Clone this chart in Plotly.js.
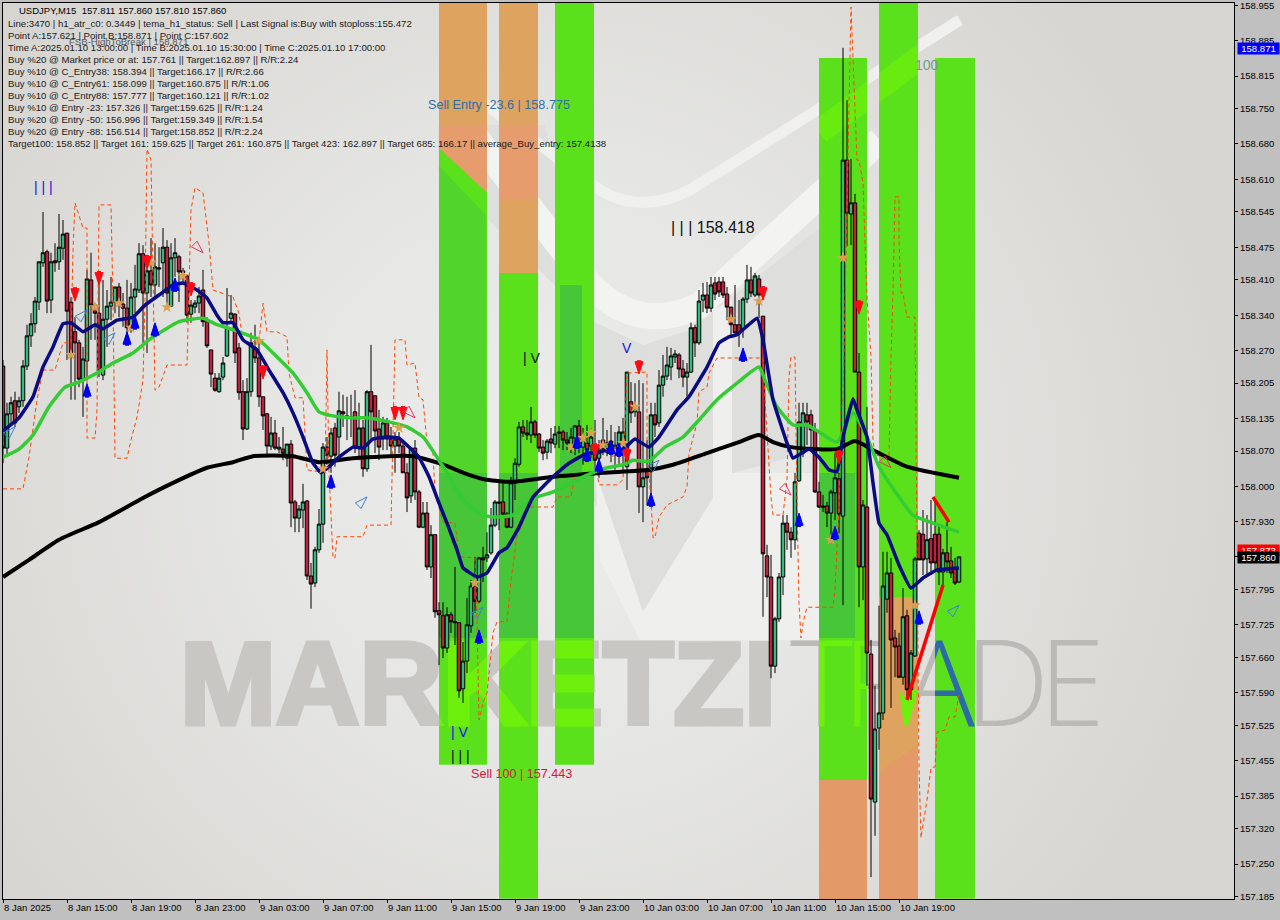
<!DOCTYPE html>
<html><head><meta charset="utf-8">
<script src="https://cdn.plot.ly/plotly-3.0.1.min.js"></script>
<style>html,body{margin:0;padding:0;background:#c0c0c0}#chart{width:1280px;height:920px}</style>
</head><body><div id="chart"></div>
<script>
const FONT = 'Liberation Sans';
const candleDirs = 'RGGRGGGGGG'+'GRGRGGRRRR'+'GGRRRGGGGR'+'RRGGGRGRGR'+'GRGGRGRGGG'+'RRRRGGGGRR'+'RGGRRRRGRG'+'RGRRGGRRGG'+
 'GRGRGRRGRG'+'RGRRRGRRGR'+'RRGRRGRGRR'+'RGRGRGGGRG'+'RGGGRRRGGG'+'RRGRRRGRGR'+'RRGGRGRGRG'+'RGRGGGGRGR'+
 'GRGRGGGGGR'+'RGGRGGRGRR'+'RRRRRGGRGR'+'RRRGGGRRGG'+'GRRRRRRGGR'+'GRGRRGRRGG'+'GGRRRGRGGR'+'RGRRRGRRRG';
const bodyTop = [
158.239,158.144,158.166,158.170,158.170,158.239,158.299,158.323,158.368,158.446,
158.464,158.466,158.446,158.448,158.475,158.501,158.503,158.366,158.307,158.285,
158.253,158.412,158.410,158.360,158.344,158.332,158.358,158.366,158.396,158.396,
158.362,158.354,158.376,158.392,158.462,158.462,158.428,158.428,158.436,158.434,
158.475,158.475,158.454,158.464,158.456,158.428,158.418,158.360,158.364,158.378,
158.390,158.327,158.271,158.215,158.215,158.245,158.315,158.344,158.342,158.275,
158.188,158.188,158.285,158.275,158.255,158.178,158.144,158.106,158.106,158.078,
158.074,158.084,158.084,157.969,157.955,157.969,157.971,157.822,157.874,157.925,
158.078,158.078,158.106,158.116,158.150,158.148,158.140,158.138,158.148,158.116,
158.116,158.188,158.188,158.180,158.114,158.126,158.126,158.094,158.094,158.094,
158.080,158.027,158.076,158.076,157.989,157.947,157.947,157.904,157.904,157.753,
157.743,157.745,157.745,157.731,157.729,157.653,157.725,157.802,157.802,157.858,
157.858,157.864,157.923,157.969,157.969,157.969,157.945,158.007,158.046,158.118,
158.118,158.106,158.128,158.128,158.104,158.078,158.090,158.094,158.104,158.108,
158.108,158.092,158.098,158.120,158.120,158.096,158.086,158.098,158.082,158.074,
158.092,158.086,158.090,158.082,158.108,158.108,158.227,158.168,158.156,158.148,
158.017,158.029,158.142,158.142,158.201,158.219,158.241,158.259,158.263,158.261,
158.233,158.227,158.315,158.315,158.368,158.380,158.380,158.400,158.404,158.406,
158.406,158.382,158.356,158.321,158.321,158.372,158.410,158.410,158.418,158.412,
158.338,157.862,157.820,157.737,157.820,157.927,157.927,157.909,158.009,158.128,
158.146,158.142,158.142,158.112,157.989,157.961,157.961,157.989,158.017,158.015,
158.648,158.648,158.563,158.563,158.227,157.963,157.959,157.667,157.518,157.550,
157.802,157.828,157.828,157.699,157.683,157.741,157.743,157.669,157.856,157.907,
157.905,157.894,157.896,157.905,157.905,157.868,157.868,157.852,157.838,157.860];
const bodyBottom = [
158.076,158.076,158.144,158.126,158.158,158.170,158.239,158.299,158.323,158.366,
158.444,158.368,158.370,158.444,158.446,158.473,158.348,158.265,158.285,158.213,
158.213,158.249,158.360,158.344,158.229,158.221,158.332,158.358,158.366,158.364,
158.354,158.315,158.321,158.376,158.390,158.384,158.384,158.400,158.400,158.432,
158.444,158.384,158.358,158.454,158.426,158.424,158.340,158.342,158.356,158.364,
158.327,158.279,158.223,158.191,158.188,158.217,158.259,158.334,158.265,158.186,
158.114,158.114,158.188,158.255,158.178,158.140,158.080,158.080,158.076,158.074,
158.066,158.056,157.967,157.937,157.937,157.953,157.822,157.806,157.808,157.874,
157.925,158.062,158.060,158.062,158.098,158.144,158.136,158.136,158.078,158.076,
158.035,158.035,158.148,158.110,158.078,158.094,158.094,158.080,158.080,158.080,
158.027,157.977,157.981,157.989,157.919,157.919,157.840,157.840,157.751,157.745,
157.679,157.679,157.731,157.729,157.594,157.598,157.653,157.723,157.772,157.772,
157.854,157.858,157.868,157.923,157.967,157.945,157.919,157.919,158.007,158.044,
158.106,158.102,158.102,158.102,158.076,158.066,158.068,158.086,158.084,158.106,
158.092,158.086,158.086,158.096,158.086,158.078,158.072,158.080,158.052,158.056,
158.074,158.068,158.072,158.068,158.082,158.088,158.039,158.146,158.148,157.999,
157.999,158.017,158.029,158.122,158.126,158.201,158.219,158.237,158.257,158.233,
158.217,158.217,158.227,158.285,158.285,158.370,158.354,158.354,158.382,158.386,
158.380,158.356,158.321,158.305,158.303,158.313,158.372,158.384,158.380,158.380,
157.866,157.820,157.643,157.643,157.737,157.820,157.909,157.894,157.894,158.011,
158.066,158.128,158.112,157.989,157.959,157.959,157.947,157.947,157.987,157.945,
157.941,158.543,158.541,158.227,157.840,157.840,157.669,157.379,157.373,157.520,
157.550,157.776,157.695,157.681,157.621,157.621,157.596,157.596,157.663,157.854,
157.854,157.856,157.848,157.848,157.830,157.830,157.850,157.828,157.808,157.810];
const highs = [
158.251,158.166,158.178,158.188,158.178,158.251,158.321,158.344,158.376,158.446,
158.545,158.470,158.464,158.483,158.541,158.529,158.503,158.376,158.336,158.291,
158.277,158.430,158.464,158.364,158.404,158.410,158.390,158.416,158.396,158.404,
158.384,158.410,158.404,158.440,158.483,158.479,158.444,158.493,158.483,158.475,
158.513,158.489,158.483,158.493,158.460,158.434,158.420,158.370,158.370,158.396,
158.430,158.336,158.271,158.225,158.225,158.257,158.394,158.380,158.344,158.285,
158.211,158.215,158.305,158.321,158.291,158.178,158.146,158.138,158.132,158.098,
158.118,158.084,158.092,157.973,157.963,158.005,157.973,157.848,157.880,157.955,
158.086,158.098,158.116,158.126,158.188,158.182,158.178,158.182,158.191,158.166,
158.132,158.191,158.281,158.180,158.152,158.138,158.136,158.118,158.108,158.108,
158.086,158.046,158.076,158.092,157.993,157.969,157.969,157.923,157.904,157.770,
157.770,157.760,157.751,157.840,157.729,157.691,157.778,157.814,157.860,157.860,
157.880,157.909,157.957,157.973,158.013,158.009,157.949,158.019,158.056,158.128,
158.132,158.132,158.158,158.132,158.106,158.092,158.094,158.116,158.120,158.120,
158.112,158.108,158.116,158.122,158.132,158.116,158.122,158.116,158.132,158.092,
158.136,158.112,158.122,158.108,158.120,158.136,158.227,158.207,158.205,158.211,
158.205,158.092,158.166,158.166,158.231,158.261,158.277,158.275,158.271,158.265,
158.251,158.245,158.325,158.321,158.390,158.404,158.406,158.416,158.416,158.416,
158.416,158.396,158.356,158.400,158.370,158.376,158.440,158.436,158.424,158.420,
158.338,157.884,157.864,157.741,157.828,157.943,157.943,157.919,158.027,158.166,
158.166,158.166,158.152,158.126,158.009,157.983,157.969,157.993,158.066,158.027,
158.871,158.767,158.650,158.581,158.265,157.973,158.158,157.695,157.604,157.763,
157.870,157.870,157.858,157.715,157.709,157.798,157.755,157.675,157.860,157.913,
157.953,157.943,157.973,157.973,157.921,157.876,157.929,157.880,157.858,157.860];
const lows = [
158.046,158.058,158.126,158.118,158.146,158.158,158.231,158.277,158.305,158.350,
158.436,158.344,158.344,158.426,158.430,158.450,158.251,158.172,158.172,158.197,
158.138,158.217,158.291,158.291,158.217,158.211,158.277,158.330,158.344,158.336,
158.317,158.297,158.305,158.344,158.384,158.285,158.265,158.376,158.376,158.396,
158.376,158.356,158.356,158.416,158.366,158.400,158.325,158.325,158.344,158.344,
158.317,158.275,158.197,158.188,158.186,158.211,158.257,158.325,158.245,158.172,
158.092,158.112,158.178,158.245,158.158,158.112,158.058,158.072,158.072,158.066,
158.052,158.039,157.919,157.909,157.909,157.917,157.814,157.757,157.800,157.868,
157.888,158.043,158.027,158.039,158.058,158.118,158.092,158.098,158.066,158.052,
158.019,158.029,158.092,158.066,158.052,158.072,158.072,158.058,158.027,158.066,
158.027,157.949,157.967,157.973,157.917,157.917,157.834,157.818,157.739,157.645,
157.659,157.669,157.709,157.685,157.580,157.570,157.629,157.709,157.749,157.768,
157.810,157.850,157.864,157.919,157.913,157.939,157.917,157.917,157.973,158.039,
158.098,158.092,158.086,158.096,158.068,158.052,158.054,158.066,158.076,158.076,
158.072,158.072,158.066,158.062,158.066,158.043,158.052,158.056,158.033,158.017,
158.062,158.060,158.048,158.033,158.043,158.033,157.993,158.126,158.138,157.947,
157.929,157.963,157.959,158.098,158.118,158.178,158.211,158.211,158.245,158.215,
158.197,158.178,158.225,158.257,158.281,158.346,158.344,158.346,158.370,158.376,
158.374,158.330,158.297,158.297,158.277,158.295,158.364,158.376,158.376,158.334,
157.741,157.780,157.619,157.629,157.731,157.784,157.874,157.858,157.874,158.009,
158.058,158.082,158.078,157.987,157.957,157.949,157.919,157.894,157.933,157.907,
157.764,158.477,158.479,158.227,157.760,157.774,157.604,157.224,157.306,157.477,
157.536,157.749,157.560,157.621,157.619,157.606,157.576,157.576,157.661,157.854,
157.824,157.824,157.824,157.834,157.804,157.804,157.828,157.818,157.804,157.808];

const blueX = [0,4,7.5,10,12.5,15,17,20,23,25,28.5,32.5,35.5,39,42.5,45,48.5,51,53.5,55,57.5,60,63.5,66.5,70,72.5,75,77.5,79.5,81.5,84,87.5,90,92.5,96,99,101.5,104,106.5,109,111,113.5,115,118.5,121,124,126,129,132.5,137.5,141.5,146,148.5,151.5,155,158,161.5,164,168.5,171.5,176,179,181.5,183.5,188.5,190,192.5,196,197.5,201.5,204,206.5,208.5,210,212.5,213.5,216,217.5,219,221,224,227,230,233.5,239];
const blueY = [158.110,158.136,158.178,158.237,158.277,158.323,158.325,158.307,158.321,158.313,158.330,158.336,158.360,158.380,158.400,158.404,158.390,158.374,158.340,158.325,158.325,158.291,158.271,158.231,158.186,158.146,158.098,158.046,158.027,158.039,158.058,158.078,158.076,158.094,158.098,158.096,158.078,158.058,158.019,157.967,157.927,157.874,157.838,157.820,157.828,157.868,157.878,157.919,157.979,158.019,158.046,158.066,158.066,158.074,158.074,158.094,158.078,158.098,158.152,158.178,158.237,158.285,158.297,158.301,158.334,158.291,158.172,158.086,158.056,158.074,158.058,158.033,158.029,158.098,158.174,158.152,158.098,158.007,157.927,157.904,157.844,157.798,157.818,157.834,157.838];
const greenX = [0,4,7.5,11.5,15.5,19,23.5,27.5,32.5,36.5,40,44,50,53.5,56,59,64,68.5,72.5,76,79,84,87.5,91.5,96.5,101,105,108.5,111,115,120,123.5,127.5,131.5,137.5,145,151,155,157.5,161.5,165.5,170,174,178.5,183.5,189,190.5,193.5,197.5,201,204,208.5,212.5,216,219,224,227.5,232.5,239];
const greenY = [158.058,158.074,158.102,158.158,158.197,158.207,158.225,158.245,158.265,158.291,158.309,158.327,158.334,158.321,158.315,158.307,158.291,158.257,158.225,158.186,158.148,158.138,158.136,158.136,158.128,158.118,158.098,158.058,158.027,157.973,157.943,157.939,157.943,157.973,157.989,158.019,158.037,158.043,158.052,158.050,158.078,158.098,158.132,158.172,158.205,158.237,158.211,158.158,158.122,158.122,158.108,158.088,158.146,158.098,158.039,157.979,157.943,157.927,157.909];
const blackX = [0,6.5,14,24,35,42.5,51,57.5,62.5,72.5,79,87.5,102.5,109,116.5,121,127.5,137.5,150,161.5,167.5,176,184,189,192.5,197,208.5,213,217.5,226,239];
const blackY = [157.820,157.854,157.894,157.929,157.977,158.007,158.037,158.048,158.060,158.060,158.048,158.056,158.060,158.046,158.023,158.013,158.009,158.019,158.027,158.033,158.043,158.066,158.088,158.102,158.088,158.078,158.074,158.090,158.072,158.039,158.017];
const stopX = [0,5,6.5,8.5,10,13,15,17,17.5,18,20,21,21,23,23.5,24,27,27.5,28,31,32,33.5,35,35.5,36,37,38,39,41,46,47,48,50,51,51.5,52.5,57.5,59,60,64,65,66,68.5,71,71.5,73,75,76,80.5,81,81.5,82.5,83,83.5,90,91,97,98,100.5,101,103,104,105,106,107.5,108,110,113,114,118,118.5,119,120,121,122.5,123.5,126,127,128.5,131.5,137.5,138.5,142,143,148.5,149,153.5,155,156,161,161,162,162.5,163,164,166,170,171,171.5,173.5,174,176,176.5,178.5,190,190.5,192,192.5,195,196,196.5,197,198,198.5,199,199.5,200,201,207.5,208,209,209.5,210,212,212.5,213,213.5,214,215,215.5,216,217,217.5,218,221.5,222,222.5,223,224,224,224.5,225,226,228,228.5,229,229.5,231,232,233,233.5,235.5,236.5,238,239];
const stopY = [157.995,157.995,158.058,158.172,158.231,158.231,158.285,158.285,158.470,158.563,158.513,158.513,158.096,158.096,158.152,158.559,158.559,158.370,158.056,158.056,158.092,158.138,158.211,158.370,158.670,158.648,158.191,158.197,158.241,158.241,158.549,158.593,158.583,158.509,158.483,158.390,158.376,158.344,158.287,158.287,158.364,158.307,158.307,158.297,158.225,158.176,158.176,158.033,158.027,158.271,158.027,157.858,157.858,157.900,157.900,157.923,157.923,158.291,158.291,158.241,158.245,158.176,158.172,158.086,158.066,157.987,157.929,157.927,157.860,157.858,157.735,157.536,157.570,157.590,157.709,157.731,157.731,157.814,157.900,157.959,157.959,157.979,157.979,158.023,158.027,158.003,158.003,158.013,158.225,158.227,158.066,157.973,157.898,157.898,157.939,157.963,157.979,157.999,158.066,158.126,158.188,158.197,158.225,158.255,158.255,158.172,157.979,157.943,157.943,158.013,158.217,158.257,158.257,157.973,157.768,157.699,157.729,157.760,157.760,157.794,157.959,158.158,158.166,158.952,158.853,158.767,158.648,158.648,158.603,158.483,158.376,158.257,158.092,158.062,158.058,158.257,158.384,158.575,158.575,158.489,158.384,158.384,158.336,158.336,157.959,157.443,157.302,157.377,157.441,157.443,157.512,157.516,157.542,157.542,157.586];
const legUpX = [226,235], legUpY = [157.576,157.804];
const legDownX = [232.5,236.5], legDownY = [157.979,157.929];

const redDownX = [18,24,36,47,65,98,100,148,156,159,190,214,209];
const redDownY = [158.382,158.414,158.446,158.392,158.227,158.146,158.146,158.072,158.062,158.237,158.384,158.356,158.058];
const blueUpX = [21,31,33,38,43,82,119,146,143.5,149,152,154,162,185,199,208,229];
const blueUpY = [158.190,158.293,158.325,158.311,158.400,158.009,157.701,158.062,158.088,158.041,158.076,158.072,157.973,158.261,157.933,157.907,157.739];
const hollowUpX = [3,21,28,91,120,164,239];
const hollowUpY = [158.118,158.350,158.305,157.979,157.760,158.052,157.764];
const hollowDownX = [50,103,197,222];
const hollowDownY = [158.464,158.136,157.983,158.037];
const starX = [17,23,29,32,37,41,45,64,80,99,118,142,145,147,150,153,155,158,182,189,207,210,228];
const starY = [158.261,158.356,158.364,158.315,158.444,158.356,158.418,158.289,158.035,158.116,157.808,158.078,158.096,158.106,158.082,158.066,158.086,158.158,158.332,158.368,157.894,158.454,157.764];

const bandStart = [109,109,124,124,138,204,204,219,219,233];
const bandEnd   = [121,121,133.75,133.75,147.75,216,216,228.75,228.75,243];
const bandLow   = [158.674,157.447,158.424,157.181,157.447,157.417,157.181,157.780,157.181,157.181];
const bandHigh  = [158.960,158.674,158.960,158.424,158.960,158.851,157.417,158.960,157.780,158.851];
const bandFill  = ['#DDA35F','#5BE01C','#DDA35F','#5BE01C','#5BE01C','#5BE01C','#E39A68','#5BE01C','#DDA35F','#5BE01C'];

const cyanLines = [160,192,217];
const pinkLines = [10,210];
const priceHigh = 158.871, priceLevel = 157.873, priceLast = 157.860;

const yTicks = ['158.955','158.885','158.815','158.750','158.680','158.610','158.545','158.475','158.410','158.340','158.270','158.205','158.135','158.070','158.000','157.930','157.860','157.795','157.725','157.660','157.590','157.525','157.455','157.385','157.320','157.250','157.185'];
const xTickText = ['8 Jan 2025','8 Jan 15:00','8 Jan 19:00','8 Jan 23:00','9 Jan 03:00','9 Jan 07:00','9 Jan 11:00','9 Jan 15:00','9 Jan 19:00','9 Jan 23:00','10 Jan 03:00','10 Jan 07:00','10 Jan 11:00','10 Jan 15:00','10 Jan 19:00'];
const infoLines = [
'Line:3470 | h1_atr_c0: 0.3449 | tema_h1_status: Sell | Last Signal is:Buy with stoploss:155.472',
'Point A:157.621 | Point B:158.871 | Point C:157.602',
'Time A:2025.01.10 13:00:00 | Time B:2025.01.10 15:30:00 | Time C:2025.01.10 17:00:00',
'Buy %20 @ Market price or at: 157.761 || Target:162.897 || R/R:2.24',
'Buy %10 @ C_Entry38: 158.394 || Target:166.17 || R/R:2.66',
'Buy %10 @ C_Entry61: 158.099 || Target:160.875 || R/R:1.06',
'Buy %10 @ C_Entry88: 157.777 || Target:160.121 || R/R:1.02',
'Buy %10 @ Entry -23: 157.326 || Target:159.625 || R/R:1.24',
'Buy %20 @ Entry -50: 156.996 || Target:159.349 || R/R:1.54',
'Buy %20 @ Entry -88: 156.514 || Target:158.852 || R/R:2.24',
'Target100: 158.852 || Target 161: 159.625 || Target 261: 160.875 || Target 423: 162.897 || Target 685: 166.17 || average_Buy_entry: 157.4138'];

/* ---------- layout helpers ---------- */
const W = 1280, H = 920, mL = 3, mR = 46, mT = 3, mB = 21;
const pw = W-mL-mR, ph = H-mT-mB;
const yRange = [157.1805, 158.960], xRange = [0, pw/4];
const pricePerPx = (yRange[1]-yRange[0])/ph;
const px = x => (x-mL)/pw, py = y => 1-(y-mT)/ph;
function note(text, x, y, size, color, anchor){
  return {text, xref:'paper', yref:'paper', x:px(x), y:py(y), xanchor:anchor||'left', yanchor:'middle',
    showarrow:false, font:{family:FONT, size, color}, borderpad:0};
}
const annotations = [];
annotations.push(note('USDJPY,M15  157.811 157.860 157.810 157.860', 18, 10.5, 9.5, '#000'));
annotations.push(note('FSB-HighToBreak | 158.871', 68, 42, 9.6, '#555'));
infoLines.forEach((t,k)=>annotations.push(note(t, 7, 23.7+12*k, 9.6, '#1a1a1a')));
annotations.push(note('Sell Entry -23.6 | 158.775', 427, 105, 12.6, '#2F6EA8'));
annotations.push(note('Sell 100 | 157.443', 470, 774, 12.6, '#DC143C'));
annotations.push(note('| | | 158.418', 670, 227, 16, '#111'));
annotations.push(note('| | |', 33, 187, 14, '#1515E0'));
annotations.push(note('| V', 522, 358, 14, '#111'));
annotations.push(note('V', 621, 348, 14, '#1515E0'));
annotations.push(note('| V', 450, 732, 14, '#1515E0'));
annotations.push(note('| | |', 450, 756, 14, '#111'));
annotations.push(note('100', 914, 65, 14, '#6F9C8C'));
function priceTag(text, y, bg){
  const a = note(text, 1237, y, 9.6, '#fff');
  a.bgcolor = bg; a.width = 41; a.height = 11; a.align='center';
  return a;
}
annotations.push(priceTag('157.873', 550, '#FF0000'));
annotations.push(priceTag('157.860', 557, '#000000'));
annotations.push(priceTag('158.871', 48, '#0000FF'));

/* ---------- shapes ---------- */
const shapes = [];
bandStart.forEach((b,k)=>shapes.push({type:'rect',layer:'below',xref:'x',yref:'y',x0:b,x1:bandEnd[k],y0:bandLow[k],y1:bandHigh[k],fillcolor:bandFill[k],line:{width:0}}));
const nBands = shapes.length;
cyanLines.forEach(x=>shapes.push({type:'line',layer:'below',xref:'x',yref:'paper',x0:x,x1:x,y0:0,y1:1,line:{color:'#22E6E6',width:1,dash:'4px,3px'}}));
pinkLines.forEach(x=>shapes.push({type:'line',layer:'below',xref:'x',yref:'paper',x0:x,x1:x,y0:0,y1:1,line:{color:'#E878A8',width:1,dash:'6px,3px'}}));
[[priceHigh,'#0000FF','18px,6px'],[priceLevel,'#FF0000','solid'],[priceLast,'#808A90','solid']].forEach(l=>
  shapes.push({type:'line',layer:'below',xref:'paper',yref:'y',x0:0,x1:1,y0:l[0],y1:l[0],line:{color:l[1],width:1,dash:l[2]}}));

/* ---------- traces ---------- */
const idx = bodyTop.map((_,i)=>i);
const opens  = idx.map(i=>candleDirs[i]==='G'?bodyBottom[i]:bodyTop[i]);
const closes = idx.map(i=>candleDirs[i]==='G'?bodyTop[i]:bodyBottom[i]);
const arrowTip = 7*pricePerPx, arrowTail = 2*pricePerPx;
function solidArrows(xs, ys, color, up){
  const s = up?1:-1;
  return [
    {type:'scatter',mode:'markers',x:xs,y:ys.map(v=>v-s*arrowTail),hoverinfo:'skip',
      marker:{symbol:'line-ns',size:7,line:{color,width:4},color}},
    {type:'scatter',mode:'markers',x:xs,y:ys.map(v=>v+s*arrowTip),hoverinfo:'skip',
      marker:{symbol:'arrow',size:13,angle:up?0:180,color,line:{color,width:1}}}
  ];
}
const traces = [
 {type:'candlestick',x:idx,open:opens,high:highs,low:lows,close:closes,whiskerwidth:0,hoverinfo:'skip',
  increasing:{line:{color:'#000',width:1},fillcolor:'#2DBE7E'},
  decreasing:{line:{color:'#000',width:1},fillcolor:'#C21F3F'}},
 {type:'scatter',mode:'lines',x:stopX,y:stopY,line:{color:'#FF4500',width:1,dash:'4px,3px'},hoverinfo:'skip'},
 {type:'scatter',mode:'lines',x:blackX,y:blackY,line:{color:'#000',width:4,shape:'spline',smoothing:0.6},hoverinfo:'skip'},
 {type:'scatter',mode:'lines',x:greenX,y:greenY,line:{color:'#33CC33',width:3.5,shape:'spline',smoothing:0.5},hoverinfo:'skip'},
 {type:'scatter',mode:'lines',x:blueX,y:blueY,line:{color:'#0A0A82',width:3.5,shape:'spline',smoothing:0.3},hoverinfo:'skip'},
 {type:'scatter',mode:'lines',x:legUpX,y:legUpY,line:{color:'#FF0000',width:3.5},hoverinfo:'skip'},
 {type:'scatter',mode:'lines',x:legDownX,y:legDownY,line:{color:'#FF0000',width:3.5},hoverinfo:'skip'},
 {type:'scatter',mode:'markers',x:starX,y:starY,hoverinfo:'skip',marker:{symbol:'star',size:9,color:'#DCA050',line:{color:'#DCA050',width:0}}},
 ...solidArrows(blueUpX,blueUpY,'#0000F0',true),
 ...solidArrows(redDownX,redDownY,'#FF0A14',false),
 {type:'scatter',mode:'markers',x:hollowUpX,y:hollowUpY,hoverinfo:'skip',marker:{symbol:'arrow-open',size:13,angle:45,color:'#3B82D0',line:{color:'#3B82D0',width:1}}},
 {type:'scatter',mode:'markers',x:hollowDownX,y:hollowDownY,hoverinfo:'skip',marker:{symbol:'arrow-open',size:13,angle:135,color:'#E83060',line:{color:'#E83060',width:1}}}
];

const tickFont = {family:FONT, size:9.5, color:'#000'};
const layout = {
 width:W,height:H,margin:{l:mL,r:mR,t:mT,b:mB,pad:0},showlegend:false,
 paper_bgcolor:'#C0C0C0',plot_bgcolor:'#E2E2E0',hovermode:false,dragmode:false,boxgap:0.12,boxgroupgap:0,
 xaxis:{type:'linear',range:xRange,tickmode:'array',tickvals:xTickText.map((_,k)=>k*16),ticktext:xTickText,
   ticks:'outside',ticklen:3,tickcolor:'#000',tickwidth:1,tickfont:tickFont,tickangle:0,ticklabelposition:'outside right',ticklabeloverflow:'allow',
   showgrid:false,zeroline:false,showline:true,linecolor:'#000',linewidth:1,mirror:true,rangeslider:{visible:false},fixedrange:true},
 yaxis:{type:'linear',side:'right',range:yRange,tickmode:'array',tickvals:yTicks.map(Number),ticktext:yTicks,
   ticks:'outside',ticklen:3,tickcolor:'#000',tickwidth:1,tickfont:tickFont,ticklabeloverflow:'allow',
   showgrid:false,zeroline:false,showline:true,linecolor:'#000',linewidth:1,mirror:true,fixedrange:true},
 shapes,annotations
};

const NS='http://www.w3.org/2000/svg';
function el(tag,attrs,parent,text){
  const n=document.createElementNS(NS,tag);
  for(const k in attrs)n.setAttribute(k,attrs[k]);
  if(text)n.textContent=text;
  if(parent)parent.appendChild(n);
  return n;
}
function wordmark(parent, heavyFill, lightFill, aFill){
  el('text',{x:180,y:724,'font-family':FONT,'font-weight':'bold','font-size':117,fill:heavyFill,stroke:heavyFill,'stroke-width':5,textLength:596,lengthAdjust:'spacingAndGlyphs'},parent,'MARKETZI');
  const t=el('text',{x:790,y:726,'font-family':'Open Sans, '+FONT,'font-weight':300,'font-size':120,fill:lightFill,textLength:315,lengthAdjust:'spacing'},parent);
  ['TR','A','DE'].forEach((s,k)=>el('tspan',k===1&&aFill?{fill:aFill}:{},t,s));
}

Plotly.newPlot('chart',traces,layout,{staticPlot:true,displayModeBar:false}).then(gd=>{
  const layer=gd.querySelector('.cartesianlayer .subplot.xy .layer-subplot .shapelayer')||gd.querySelector('.layer-subplot .shapelayer');
  const parent=layer.parentNode;
  /* backdrop, below the bands */
  const back=el('g',{},null);
  const defs=el('defs',{},back);
  const rg=el('radialGradient',{id:'wmBg',gradientUnits:'userSpaceOnUse',cx:560,cy:470,r:700},defs);
  el('stop',{offset:'0','stop-color':'#EDEDEC'},rg);
  el('stop',{offset:'0.45','stop-color':'#E5E5E3'},rg);
  el('stop',{offset:'1','stop-color':'#D7D5D1'},rg);
  el('rect',{x:mL,y:mT,width:pw,height:ph,fill:'url(#wmBg)'},back);
  el('polygon',{points:'438,125 545,125 582,298 582,473 643,612 713,498 713,310 732,277 732,473 855,440 855,200 690,330 643,345 590,320 438,170',fill:'#DEDEDC'},back);
  el('polygon',{points:'595,470 643,612 713,498 713,310 732,300 732,473 855,473 855,640 640,640 600,560',fill:'#EFEFEE'},back);
  el('path',{d:'M470,130 L590,285 Q640,335 700,305 L880,140',fill:'none',stroke:'#F3F3F2','stroke-width':26},back);
  el('path',{d:'M480,100 L600,190 Q640,215 690,190 L960,20',fill:'none',stroke:'#F0F0EF','stroke-width':11},back);
  wordmark(back,'#C9C7C4','#BCBAB7');
  parent.insertBefore(back,layer);
  /* tints inside the bands, above them but under the price lines */
  const xa=gd._fullLayout.xaxis, bx=v=>xa._offset+xa.l2p(v);
  const clipId='wmClip', over=el('g',{},null);
  const ov=el('defs',{},over), cp=el('clipPath',{id:clipId},ov);
  [[109,121,3],[124,133.75,3],[138,147.75,3],[204,216,58],[219,228.75,3],[233,243,58]].forEach(b=>
    el('rect',{x:bx(b[0]),y:b[2],width:bx(b[1])-bx(b[0]),height:mT+ph-b[2]},cp));
  const g=el('g',{'clip-path':'url(#'+clipId+')'},over);
  el('rect',{x:430,y:473,width:425,height:165,fill:'#46C638'},g);
  el('polygon',{points:'438,165 486,215 486,473 438,473',fill:'#52D52A'},g);
  el('polygon',{points:'438,125 540,125 540,200 495,200 438,147',fill:'#E79C6E'},g);
  el('path',{d:'M819,132 L960,28',fill:'none',stroke:'#68EC10','stroke-width':24},g);
  el('rect',{x:560,y:285,width:22,height:188,fill:'#46C638'},g);
  wordmark(el('g',{},g),'#6CF00C','#6CF00C','#2E6AA8');
  el('rect',{x:875,y:597,width:50,height:302,fill:'#DDA35F'},g);
  el('polygon',{points:'819,899 819,815 918,745 918,899',fill:'#E39A68'},g);
  el('polygon',{points:'899,690 906,700 912,690 918,690 908,726 904,726',fill:'#6CF00C'},g);
  layer.insertBefore(over,layer.children[nBands]||null);
});
</script></body></html>
